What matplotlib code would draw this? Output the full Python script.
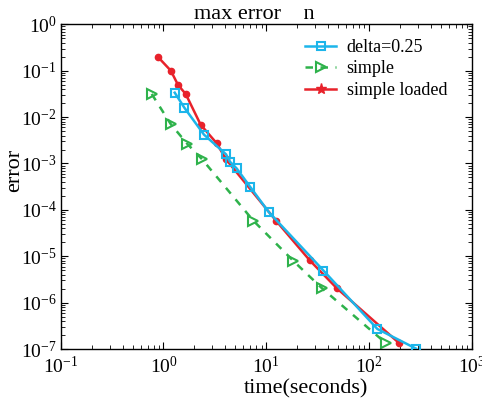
import math
import matplotlib
matplotlib.use('Agg')

import matplotlib.pyplot as plt
from matplotlib.lines import Line2D
from matplotlib.ticker import LogLocator, FuncFormatter, NullFormatter

plt.rcParams['font.family'] = ['Liberation Serif', 'DejaVu Serif']
plt.rcParams['mathtext.fontset'] = 'custom'
plt.rcParams['mathtext.rm'] = 'Liberation Serif'

# delta=0.25
delta_time = [1.287, 1.596, 2.48, 4.06, 4.44, 5.16, 6.96, 10.57, 36.1, 120.6, 287]
delta_err = [0.0336, 0.01595, 0.00418, 0.00158, 0.00109, 7.8e-4, 3.16e-4, 9.0e-5, 4.9e-6, 2.71e-7, 1.02e-7]

# simple
simple_time = [0.768, 1.18, 1.71, 2.37, 7.49, 18.4, 34.9, 146.5]
simple_err = [0.0315, 0.0070, 0.00263, 0.00124, 5.85e-5, 7.9e-6, 2.04e-6, 1.33e-7]

# simple loaded
loaded_time = [0.885, 1.18, 1.386, 1.646, 2.30, 3.30, 4.06, 12.45, 26.6, 48.9, 196]
loaded_err = [0.197, 0.1, 0.0492, 0.0315, 0.00686, 0.00272, 0.00123, 5.85e-5, 8.1e-6, 2.02e-6, 1.35e-7]

labels = ['delta=0.25', 'simple', 'simple loaded']
blue = '#1cb5ea'
green = '#2eb24b'
red = '#e8222b'

fig = plt.figure(figsize=(4.82, 4.08), dpi=100)
ax = fig.add_axes([0.126, 0.1446, 0.8526, 0.7958])

ax.plot(loaded_time, loaded_err, '-o', color=red, lw=1.8, ms=4.5, zorder=3)
ax.plot(simple_time, simple_err, '--', color=green, lw=1.8, dashes=(3, 3),
        marker='>', ms=7, mfc='none', mew=1.5, zorder=2)
ax.plot(delta_time, delta_err, '-s', color=blue, lw=1.8, ms=6, mfc='none', mew=1.5, zorder=4)

ax.set_xscale('log')
ax.set_yscale('log')
ax.set_xlim(1e-1, 1e3)
ax.set_ylim(1e-7, 1e0)

fmt = FuncFormatter(lambda v, p: r'$\mathregular{10^{%d}}$' % round(math.log10(v)))
ax.xaxis.set_major_formatter(fmt)
ax.yaxis.set_major_formatter(fmt)
ax.xaxis.set_major_locator(LogLocator(base=10, numticks=10))
ax.yaxis.set_major_locator(LogLocator(base=10, numticks=10))
ax.xaxis.set_minor_locator(LogLocator(base=10, subs=range(2, 10), numticks=20))
ax.yaxis.set_minor_locator(LogLocator(base=10, subs=range(2, 10), numticks=20))
ax.xaxis.set_minor_formatter(NullFormatter())
ax.yaxis.set_minor_formatter(NullFormatter())
ax.tick_params(which='both', direction='in', top=True, right=True, labelsize=14)
ax.tick_params(which='major', length=5, width=0.8, pad=3)
ax.tick_params(which='minor', length=3, width=0.6)
ax.tick_params(axis='x', which='major', pad=5)
for s in ax.spines.values():
    s.set_linewidth(1.0)

ax.set_xlabel('time(seconds)', fontsize=16)
ax.xaxis.set_label_coords(0.597, -0.093)
ax.set_ylabel('error', fontsize=16)
ax.yaxis.set_label_coords(-0.089, 0.551)
ax.set_title('max error    n', fontsize=16, pad=4, x=0.47)

handles = [
    Line2D([], [], color=blue, lw=1.8, marker='s', ms=6, mfc='none', mew=1.5),
    Line2D([], [], color=green, lw=1.8, ls='--', dashes=(3, 3), marker='>', ms=7, mfc='none', mew=1.5),
    Line2D([], [], color=red, lw=1.8, marker='*', ms=8),
]
ax.legend(handles, labels, loc='upper right', frameon=False, fontsize=13,
          handlelength=1.7, handletextpad=0.6, labelspacing=0.25,
          bbox_to_anchor=(0.98, 1.005))

fig.savefig('out.png', dpi=100)
